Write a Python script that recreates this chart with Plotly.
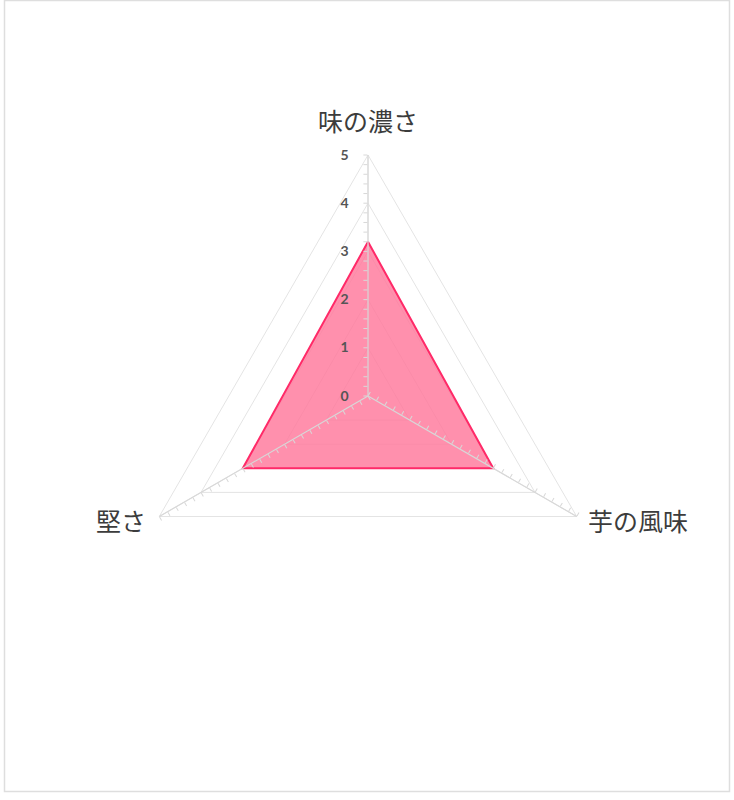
import plotly.graph_objects as go

# Data
categories = ["味の濃さ", "芋の風味", "堅さ"]
scores = [3.2, 3.0, 3.0]
major_ticks = [0, 1, 2, 3, 4, 5]
minor_ticks = [i / 5 for i in range(26)]

W, H = 734, 800
cx, cy, rad = 368, 396, 241  # pixel centre/radius of the radar

dom_x = [(cx - rad) / W, (cx + rad) / W]
dom_y = [(H - cy - rad) / H, (H - cy + rad) / H]

grid_col = "#e4e4e4"
tick_col = "#d8d8d8"

fig = go.Figure()

# main series
fig.add_trace(go.Scatterpolar(
    r=scores + scores[:1],
    theta=categories + categories[:1],
    mode="lines",
    fill="toself",
    fillcolor="rgba(255,120,155,0.82)",
    line=dict(color="#ff2a68", width=2),
    hoverinfo="skip",
    showlegend=False,
    subplot="polar",
))

# invisible traces so the overlay polars (tick marks on each spoke) get drawn
for sp in ["polar2", "polar3", "polar4"]:
    fig.add_trace(go.Scatterpolar(
        r=[0], theta=[categories[0]], mode="markers",
        marker=dict(opacity=0), hoverinfo="skip", showlegend=False,
        subplot=sp,
    ))

fig.update_layout(
    width=W, height=H,
    margin=dict(l=0, r=0, t=0, b=0),
    paper_bgcolor="white",
    font=dict(family="Noto Sans CJK JP", color="#444"),
    polar=dict(
        domain=dict(x=dom_x, y=dom_y),
        bgcolor="rgba(0,0,0,0)",
        gridshape="linear",
        radialaxis=dict(
            range=[0, 5], tickvals=major_ticks, angle=90, tickangle=90,
            side="counterclockwise",
            showline=False, ticks="outside", ticklen=14,
            tickcolor="rgba(0,0,0,0)",
            gridcolor=grid_col, gridwidth=1,
            tickfont=dict(size=14, color="#555", family="Lato", weight="bold"),
        ),
        angularaxis=dict(
            rotation=90, direction="clockwise",
            showline=True, linecolor=grid_col, linewidth=1,
            gridcolor=grid_col, ticks="", showticklabels=False,
        ),
    ),
)

# one overlay per spoke, carrying the small 0.2-step tick marks
for sp, ang in [("polar2", 90), ("polar3", -30), ("polar4", 210)]:
    fig.update_layout({sp: dict(
        domain=dict(x=dom_x, y=dom_y),
        bgcolor="rgba(0,0,0,0)",
        gridshape="linear",
        radialaxis=dict(
            range=[0, 5], tickvals=minor_ticks, angle=ang,
            showticklabels=False, showgrid=False,
            showline=True, linecolor=tick_col, linewidth=1.2,
            ticks="inside", ticklen=4, tickcolor=tick_col,
        ),
        angularaxis=dict(
            rotation=90, direction="clockwise",
            categoryarray=categories, categoryorder="array",
            showline=False, showgrid=False, showticklabels=False, ticks="",
        ),
    )})

# category labels around the radar
label_pos = [
    (cx, 120, "center"),
    (586, 520, "left"),
    (148, 520, "right"),
]
for name, (px_, py_, anchor) in zip(categories, label_pos):
    fig.add_annotation(
        x=px_ / W, y=1 - py_ / H, xref="paper", yref="paper",
        text=name, showarrow=False, xanchor=anchor, yanchor="middle",
        font=dict(size=25, color="#3c3c3c"),
    )

# thin frame around the picture
fig.add_shape(type="rect", xref="paper", yref="paper",
              x0=4.5 / W, x1=729.5 / W, y0=(H - 791.5) / H, y1=1 - 0.5 / H,
              line=dict(color="#dedede", width=1.5), fillcolor="rgba(0,0,0,0)")

fig.write_html("out.html", config={"displayModeBar": False},
               post_script="document.body.style.margin='0';")
